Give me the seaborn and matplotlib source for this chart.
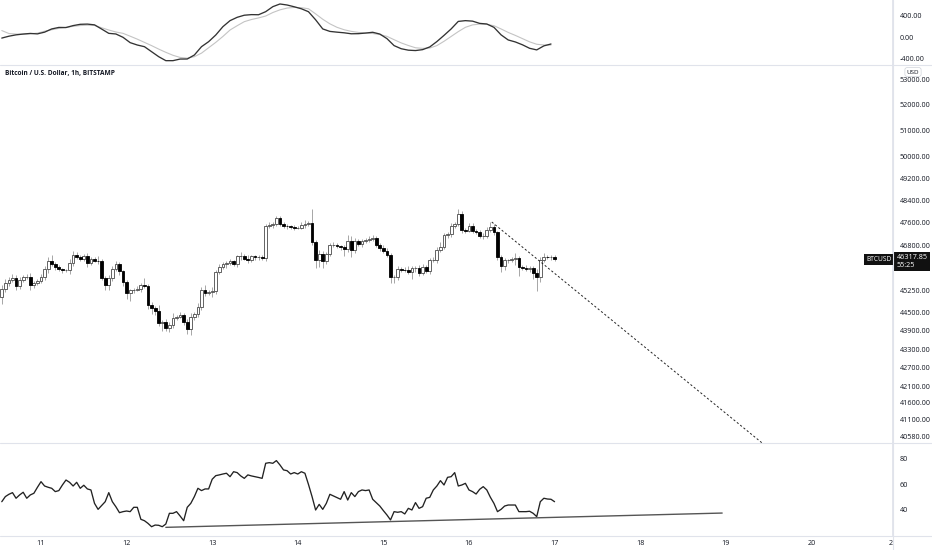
import numpy as np
import pandas as pd
import matplotlib
matplotlib.use("Agg")
import matplotlib.pyplot as plt
import seaborn as sns
from matplotlib.lines import Line2D
from matplotlib.ticker import FixedLocator, NullLocator, NullFormatter
from matplotlib.transforms import blended_transform_factory, Bbox, TransformedBbox

# BTCUSD hourly candles, first candle at hour -11 (day 10, 13:00)
start_hour = -11
first_open = 45030
closes = [
    45300, 45500, 45600, 45680, 45400, 45600, 45700, 45720, 45430, 45500,
    45560, 45720, 45980, 46260, 46150, 46050, 45980, 45930, 45930, 46200,
    46460, 46400, 46320, 46430, 46200, 46320, 46270, 46260, 45670, 45450,
    45660, 45980, 46150, 45900, 45540, 45160, 45250, 45280, 45300, 45420,
    45400, 44770, 44650, 44560, 44150, 44200, 44010, 44100, 44340, 44370,
    44420, 44180, 43950,
    44370, 44450, 44700, 45280, 45150, 45180, 45220, 45880, 46040, 46150,
    46200, 46240, 46140, 46420, 46420, 46340, 46280, 46420, 46380, 46400,
    46350, 47480, 47530, 47550, 47770, 47550, 47480, 47470, 47440, 47420,
    47420, 47520, 47560, 47580, 46920, 46290, 46500, 46260, 46490, 46830,
    46830, 46770, 46730, 46690, 46960, 46650, 46940, 46840, 46960, 46990,
    47040, 47060,
    46820, 46720, 46600, 46480, 45700, 45700, 45980, 45960, 45930, 45880,
    46000, 46030, 45850, 46050, 45900,
    46290, 46290, 46640, 46760, 47170, 47200, 47480, 47560, 47900, 47340,
    47320, 47500, 47320, 47270, 47120, 47130, 47330, 47460, 47260, 46380,
    46080, 46280, 46280, 46310, 46350, 46050, 46030, 45990, 46000, 45850,
    45700, 46290, 46400, 46380, 46390, 46320,
]
upper_wicks = [
    120, 150, 100, 120, 80, 100, 90, 80, 120, 60,
    80, 100, 90, 140, 200, 80, 60, 50, 60, 120,
    160, 120, 60, 80, 100, 60, 80, 170, 60, 80,
    100, 90, 120, 80, 60, 80, 60, 60, 100, 80,
    250, 80, 100, 80, 200, 60, 80, 90, 140, 60,
    100, 80, 100, 120, 60, 120, 80, 150, 90, 140,
    60, 120, 80, 40, 80, 50, 60, 160, 70, 120,
    60, 60, 60, 80, 60, 100, 80, 60, 60, 80,
    70, 60, 80, 60, 90, 120, 80, 500, 80, 150,
    120, 90, 60, 80, 60, 60, 100, 200, 180, 120,
    80, 60, 60, 80, 100, 60, 80, 90, 100, 60,
    80, 120, 60, 100, 150, 80, 60, 100, 120, 60,
    80, 100, 120, 150, 80, 60, 100, 60, 200, 120,
    80, 90, 100, 60, 80, 90, 120, 150, 80, 60,
    100, 80, 60, 100, 200, 80, 60, 100, 80, 90,
    120, 100, 120, 80, 60, 80,
]
lower_wicks = [
    250, 120, 100, 80, 150, 100, 80, 60, 180, 100,
    80, 60, 100, 120, 80, 90, 60, 80, 60, 120,
    100, 60, 80, 60, 140, 80, 60, 90, 60, 200,
    180, 100, 80, 120, 150, 200, 250, 80, 60, 100,
    80, 150, 200, 120, 80, 250, 100, 150, 120, 80,
    60, 100, 150, 200, 120, 80, 100, 100, 60, 150,
    100, 80, 60, 120, 80, 60, 100, 120, 60, 80,
    60, 100, 80, 60, 80, 60, 100, 80, 60, 60,
    80, 60, 80, 60, 60, 100, 80, 100, 280, 250,
    250, 100, 60, 80, 60, 80, 250, 120, 250, 100,
    60, 80, 60, 80, 100, 80, 120, 60, 100, 200,
    200, 100, 80, 60, 80, 250, 120, 100, 80, 60,
    80, 60, 100, 60, 80, 100, 120, 60, 80, 100,
    80, 60, 100, 80, 60, 100, 80, 60, 100, 80,
    200, 120, 80, 60, 200, 300, 100, 80, 100, 200,
    460, 150, 80, 60, 80, 60,
]

# RSI, one value per candle
rsi = [
    46.5, 50.5, 52.3, 53.6, 49.2, 51.8, 53.9, 49.2, 51.8, 53.1,
    57.8, 62.2, 58.8, 57.8, 57.0, 54.4, 55.2, 59.6, 63.5, 61.7,
    58.8, 61.7, 57.0, 59.4, 56.5, 55.7, 45.2, 40.5, 43.5, 46.5,
    53.6, 46.5, 42.5, 37.9, 38.7, 39.2, 38.7, 42.1, 42.1, 32.7,
    31.6, 29.5, 26.9, 28.2, 28.0, 26.9, 29.0, 37.4, 37.4, 38.7,
    35.3, 31.6, 42.1, 45.2, 50.5, 57.0, 55.2, 56.5, 56.5, 64.1,
    66.9, 67.5, 68.2, 68.8, 66.1, 70.0, 69.3, 66.7, 64.8, 67.5,
    66.7, 66.1, 65.5, 64.8, 76.6, 77.1, 76.6, 78.7, 75.3,
    71.4, 70.8, 68.2, 69.3, 68.2, 70.0, 68.8, 60.0, 50.5, 40.0,
    44.4, 40.5, 45.2, 52.3, 51.0, 49.7, 48.4, 54.4, 47.8, 53.6,
    50.5, 54.4, 55.7, 55.2, 55.7, 48.4, 45.8, 43.1, 39.5, 36.1,
    32.2, 38.7, 38.2, 38.7, 36.9, 41.3, 40.0, 45.8, 41.3, 42.6,
    49.2, 49.9, 55.7, 58.8, 63.0, 59.6, 65.6, 66.1, 69.3, 58.8,
    59.6, 60.9, 55.7, 54.4, 52.5, 56.2, 58.3, 55.7, 50.0, 45.2,
    38.7, 40.5, 43.1, 43.9, 43.9, 43.9, 38.7, 38.7, 38.7, 39.0,
    37.4, 34.8, 46.5, 49.2, 48.6, 48.4, 46.5,
]

# MACD and signal, one value every 2 hours from hour -11
macd_step = 2
macd = [
    -20, 15, 40, 55, 66, 58, 90, 150, 178, 176,
    212, 236, 240, 226, 148, 68, 56, -6, -105, -149,
    -180, -273, -366, -440, -440, -410, -409, -335, -180, -87,
    37, 192, 304, 366, 405, 416, 414, 471, 564, 614,
    595, 562, 525, 470, 320, 150, 104, 90, 78, 60,
    62, 73, 88, 55, -30, -160, -218, -245, -252, -235,
    -185, -85, 30, 150, 290, 304, 295, 253, 242, 180,
    40, -55, -92, -145, -210, -240, -165, -130,
]
signal = [
    120, 65, 55, 52, 60, 72, 108, 135, 160, 178,
    198, 213, 220, 215, 172, 130, 93, 68, 15, -40,
    -100, -160, -225, -285, -340, -380, -393, -366, -300, -200,
    -100, 10, 130, 210, 285, 325, 355, 390, 455, 505,
    538, 550, 545, 525, 430, 330, 245, 180, 135, 105,
    85, 75, 65, 45, 12, -50, -110, -158, -200, -211,
    -205, -160, -80, 10, 100, 180, 225, 240, 235, 210,
    150, 85, 30, -30, -90, -135, -148, -150,
]

price_ticks = [53000, 52000, 51000, 50000, 49200, 48400, 47600, 46800, 45250,
               44500, 43900, 43300, 42700, 42100, 41600, 41100, 40580]
macd_ticks = [400, 0, -400]
rsi_ticks = [80, 60, 40]
day_labels = ["11", "12", "13", "14", "15", "16", "17", "18", "19", "20"]

# drawn trend lines (hour, value)
price_line_hours = [126.4, 203]
price_line_values = [47625, 40300]
rsi_line_hours = [35, 191]
rsi_line_values = [26.4, 37.6]

last_price = 46317.85
countdown = "55:25"
title = "Bitcoin / U.S. Dollar, 1h, BITSTAMP"

# build the candle table
hours = np.arange(start_hour, start_hour + len(closes))
opens = [first_open] + closes[:-1]
df = pd.DataFrame({"hour": hours, "open": opens, "close": closes})
df["high"] = df[["open", "close"]].max(axis=1) + upper_wicks
df["low"] = df[["open", "close"]].min(axis=1) - lower_wicks
df["rsi"] = rsi
up = df[df["close"] >= df["open"]]
down = df[df["close"] < df["open"]]

macd_df = pd.DataFrame({"hour": start_hour + macd_step * np.arange(len(macd)),
                        "macd": macd, "signal": signal})

sns.set_theme(style="white")
plt.rcParams["font.family"] = ["Open Sans", "DejaVu Sans"]
text_color = "#131722"
line_color = "#e0e3eb"

W, H = 932, 550
fig = plt.figure(figsize=(W / 100, H / 100), dpi=100)
axis_x = 893 / W


def panel(top_px, bottom_px):
    return fig.add_axes([0, 1 - bottom_px / H, axis_x, (bottom_px - top_px) / H])


ax_macd = panel(0, 64)
ax = panel(65, 443)
ax_rsi = panel(443, 535)

x_min, x_max = -11.5, 238.9
for a in (ax_macd, ax, ax_rsi):
    a.set_xlim(x_min, x_max)
    a.set_facecolor("white")
    for s in ("top", "left", "bottom"):
        a.spines[s].set_visible(False)
    a.spines["right"].set_color(line_color)
    a.yaxis.tick_right()
    a.tick_params(axis="y", length=0, pad=5, labelsize=5.2, labelcolor=text_color)
    a.tick_params(axis="x", length=0)

# candles
ax.set_yscale("log")
ax.vlines(df["hour"], df["low"], df["high"], color="#a0a0a0", lw=0.65, zorder=1)
ax.bar(up["hour"], up["close"] - up["open"], bottom=up["open"], width=0.78,
       color="white", edgecolor="#4a4a4a", linewidth=0.6, zorder=2)
ax.bar(down["hour"], down["open"] - down["close"], bottom=down["close"], width=0.78,
       color="black", edgecolor="black", linewidth=0.6, zorder=2)
ax.plot(price_line_hours, price_line_values, color="#222222", lw=0.7,
        dashes=(2.2, 2.2), zorder=3)
ax.set_ylim(40370, 53560)
ax.yaxis.set_major_locator(FixedLocator(price_ticks))
ax.yaxis.set_minor_locator(NullLocator())
ax.yaxis.set_minor_formatter(NullFormatter())
ax.set_yticklabels([f"{t:.2f}" for t in price_ticks])
ax.set_xticks([])

# MACD panel
sns.lineplot(data=macd_df, x="hour", y="signal", ax=ax_macd, color="#c4c4c4", lw=0.8)
sns.lineplot(data=macd_df, x="hour", y="macd", ax=ax_macd, color="#333333", lw=0.95)
ax_macd.set_ylim(-502, 688)
ax_macd.set_yticks(macd_ticks)
ax_macd.set_yticklabels([f"{t:.2f}" for t in macd_ticks])
ax_macd.set_xticks([])
ax_macd.set_xlabel("")
ax_macd.set_ylabel("")

# RSI panel
sns.lineplot(data=df, x="hour", y="rsi", ax=ax_rsi, color="#222222", lw=0.95)
ax_rsi.plot(rsi_line_hours, rsi_line_values, color="#555555", lw=1.0)
ax_rsi.set_ylim(20.4, 92.5)
ax_rsi.set_yticks(rsi_ticks)
ax_rsi.set_yticklabels([str(t) for t in rsi_ticks])
ax_rsi.set_xticks([24 * i for i in range(len(day_labels))])
ax_rsi.set_xticklabels(day_labels)
ax_rsi.tick_params(axis="x", labelsize=5.2, labelcolor=text_color, pad=3.5)
ax_rsi.set_xlabel("")
ax_rsi.set_ylabel("")

# label of the next day, cut by the price scale
clip = TransformedBbox(Bbox([[0, 0], [axis_x, 1]]), fig.transFigure)
t21 = ax_rsi.text(239.0, -0.09, "21",
                  transform=blended_transform_factory(ax_rsi.transData, ax_rsi.transAxes),
                  ha="center", va="center", fontsize=5.2, color=text_color)
t21.set_clip_box(clip)
t21.set_clip_on(True)

# panel separators and price scale border
for y_px in (64.5, 443, 535.5):
    fig.add_artist(Line2D([0, 1], [1 - y_px / H] * 2, color=line_color, lw=0.8,
                          transform=fig.transFigure))
fig.add_artist(Line2D([axis_x, axis_x], [0, 1], color=line_color, lw=0.8,
                      transform=fig.transFigure))

# title and labels
fig.text(5 / W, 1 - 73 / H, title, ha="left", va="center", fontsize=4.7,
         fontweight="bold", color=text_color)
fig.text(913 / W, 1 - 72 / H, "USD", ha="center", va="center", fontsize=4.5,
         color=text_color,
         bbox=dict(boxstyle="round,pad=0.3,rounding_size=0.35", fc="white",
                   ec="#d0d3da", lw=0.5))

price_tr = blended_transform_factory(ax.transAxes, ax.transData)
ax.text(0.998, last_price, "BTCUSD", transform=price_tr, ha="right", va="center",
        fontsize=4.8, color="white", zorder=5, clip_on=False,
        bbox=dict(boxstyle="square,pad=0.3", fc="#111111", ec="none"))
ax.annotate(f"{last_price:.2f}\n{countdown}", xy=(1.0, last_price), xycoords=price_tr,
            xytext=(2.5, 3.5), textcoords="offset points", ha="left", va="top",
            fontsize=5.2, color="white", linespacing=1.15, annotation_clip=False,
            bbox=dict(boxstyle="square,pad=0.3", fc="#111111", ec="none"))

fig.savefig("out.png", dpi=100, facecolor="white")
